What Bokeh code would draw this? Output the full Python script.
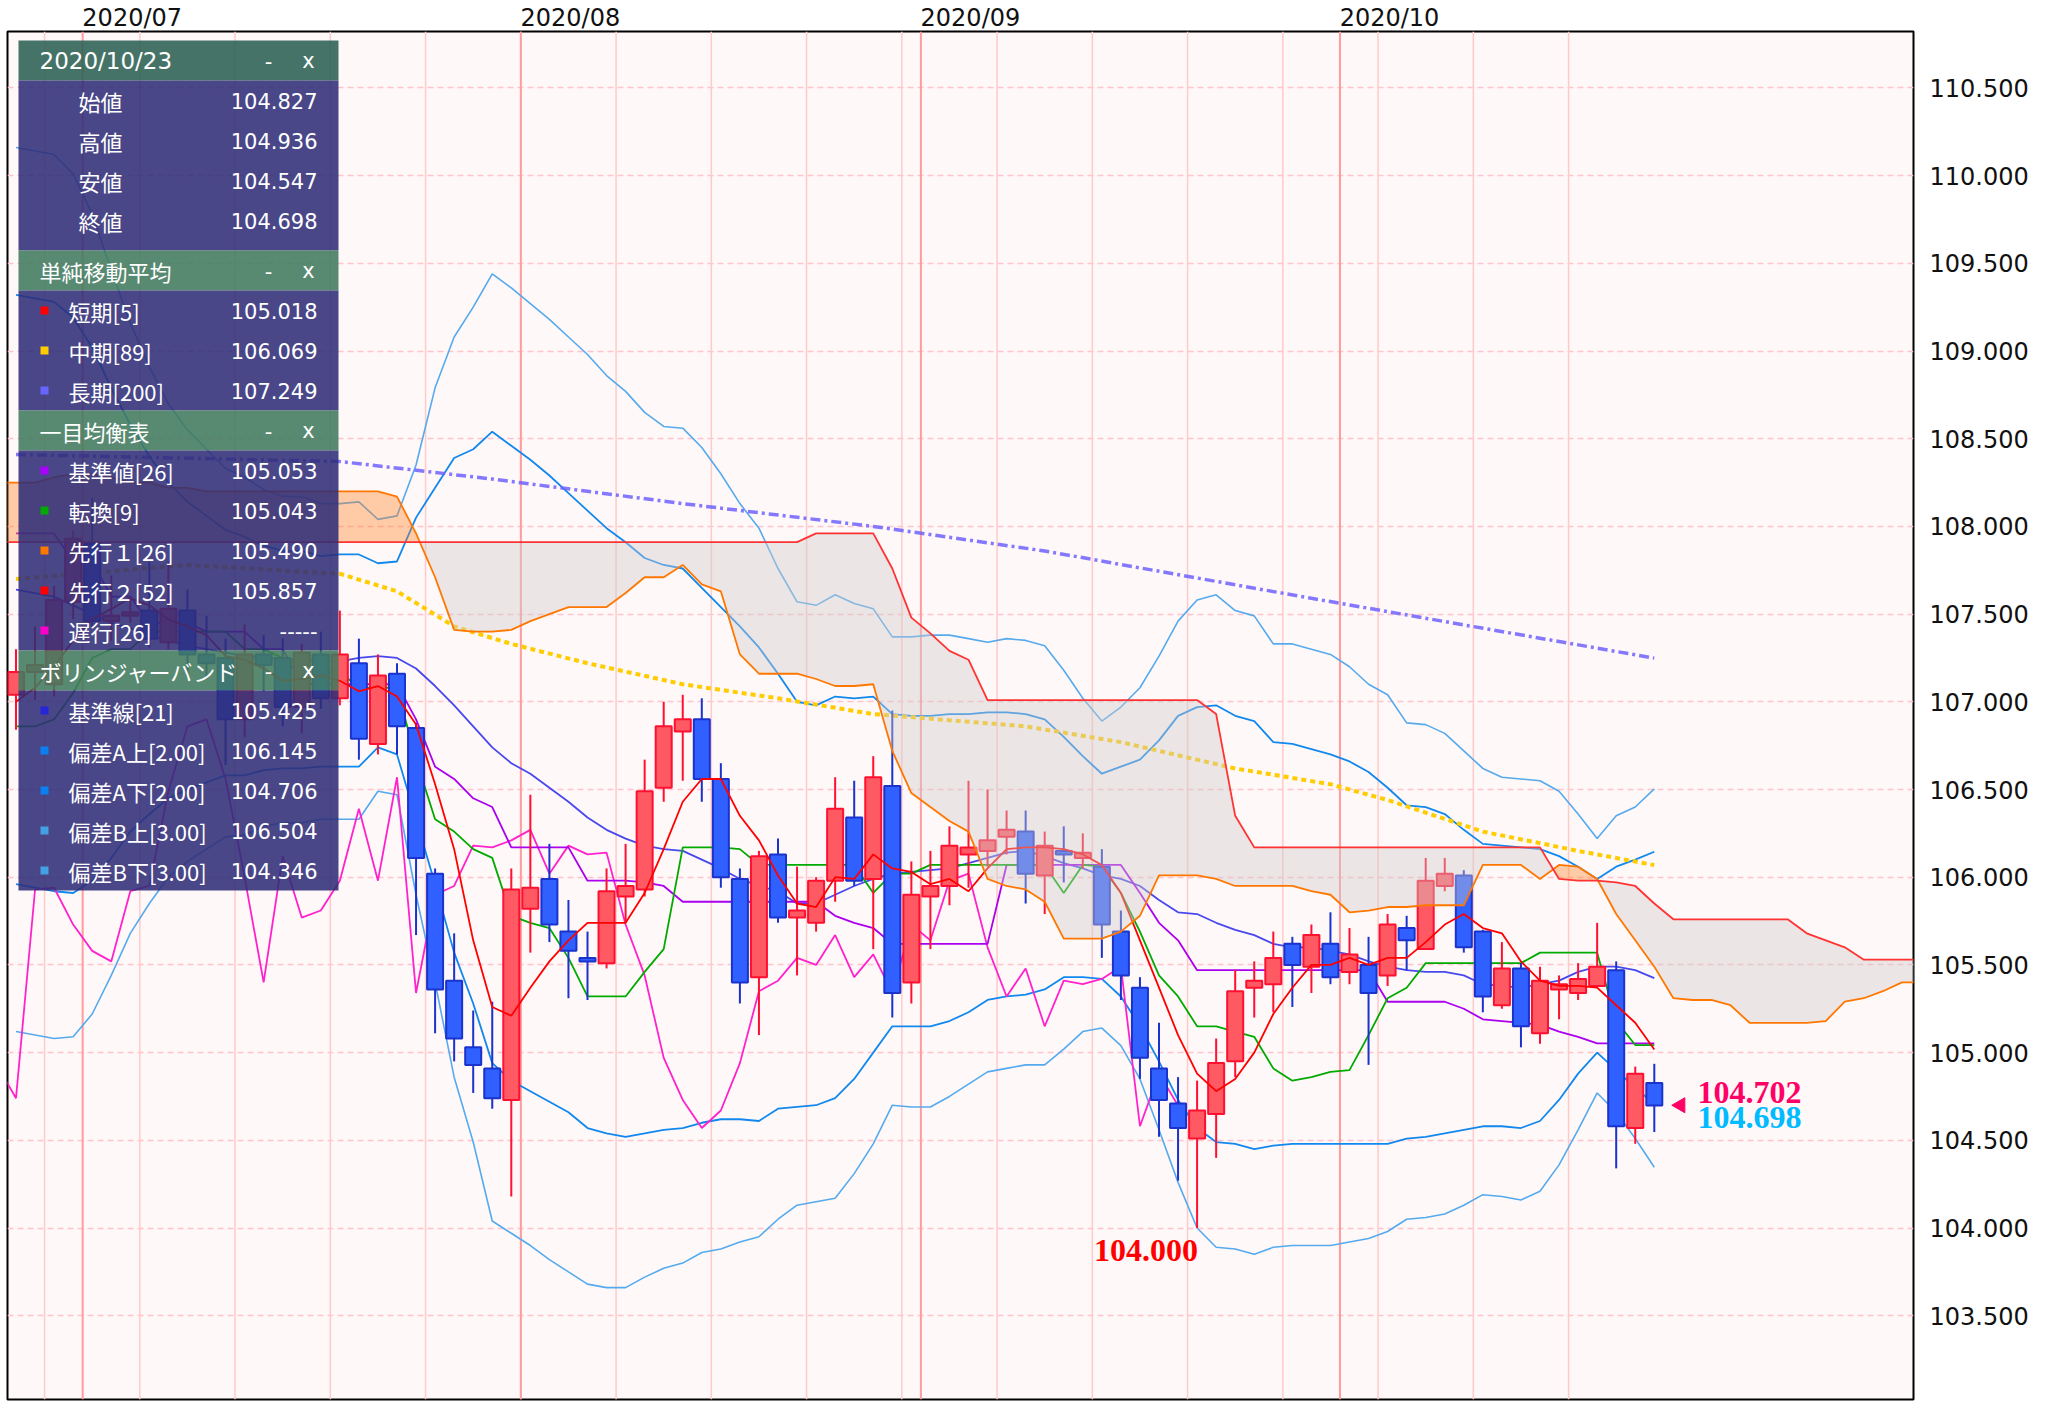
import numpy as np
import pandas as pd
from bokeh.plotting import figure
from bokeh.models import (Range1d, FixedTicker, PrintfTickFormatter, Span, Label, ColumnDataSource,
                          LinearAxis)
from bokeh.core.properties import value
from bokeh.embed import file_html
from bokeh.resources import INLINE

# ---------------- data (USD/JPY daily, 2020/06/25 - 2020/10/23) ----------------
dates = pd.bdate_range("2020-06-25", "2020-10-23")

opens = [107.04, 107.17, 107.10, 107.57, 107.90, 107.46, 107.49, 107.52, 107.34, 107.52, 107.27, 107.25, 106.90, 107.27, 107.25, 106.97, 107.27,
         107.02, 107.22, 106.76, 107.16, 106.85, 106.02, 105.41, 105.03, 104.91, 104.73,
         105.82, 105.99, 105.69, 105.54, 105.51, 105.89, 105.93, 106.51, 106.83, 106.90,
         106.56, 105.99, 105.43, 106.13, 105.77, 105.74, 105.98, 106.34, 105.99, 106.52,
         105.40, 105.89, 105.95, 106.13, 106.15, 106.23, 106.26, 106.01, 106.15, 106.11,
         106.06, 105.69, 105.37, 104.91, 104.71, 104.51, 104.65, 104.95, 105.37, 105.39,
         105.62, 105.49, 105.62, 105.46, 105.50, 105.44, 105.71, 105.59, 105.95, 106.01,
         105.69, 105.27, 105.48, 105.11, 105.36, 105.34, 105.38, 105.47, 104.57, 104.827]
highs = [107.30, 107.43, 107.66, 107.98, 108.16, 107.72, 107.60, 107.80, 107.80, 107.64, 107.49, 107.36, 107.44, 107.38, 107.36, 107.33, 107.40,
         107.52, 107.36, 107.27, 107.22, 106.88, 106.05, 105.68, 105.24, 105.29, 106.05,
         106.47, 106.19, 105.87, 105.69, 106.05, 106.19, 106.67, 107.00, 107.04, 107.02,
         106.65, 106.05, 106.15, 106.22, 106.06, 106.00, 106.57, 106.55, 106.69, 106.95,
         106.09, 106.15, 106.29, 106.55, 106.50, 106.38, 106.38, 106.26, 106.29, 106.25,
         106.16, 105.81, 105.43, 105.17, 104.86, 104.84, 105.08, 105.47, 105.52, 105.69,
         105.66, 105.73, 105.80, 105.71, 105.66, 105.79, 105.78, 106.11, 106.11, 106.04,
         105.70, 105.63, 105.51, 105.49, 105.44, 105.51, 105.74, 105.52, 104.92, 104.936]
lows = [106.84, 107.01, 107.03, 107.47, 107.42, 107.35, 107.45, 107.31, 107.30, 107.14, 107.13, 106.64, 106.80, 107.06, 106.86, 106.82, 106.96,
        106.98, 106.67, 106.70, 106.70, 105.67, 105.11, 104.95, 104.77, 104.68, 104.18,
        105.57, 105.63, 105.31, 105.30, 105.48, 105.74, 105.89, 106.43, 106.55, 106.43,
        105.94, 105.28, 105.10, 105.74, 105.44, 105.69, 105.86, 105.95, 105.59, 105.20,
        105.28, 105.59, 105.84, 105.94, 106.06, 106.13, 105.85, 105.79, 105.97, 106.05,
        105.54, 105.30, 104.85, 104.52, 104.27, 104.00, 104.40, 104.86, 105.20, 105.23,
        105.26, 105.34, 105.39, 105.39, 104.93, 105.38, 105.47, 105.59, 105.92, 105.57,
        105.23, 105.25, 105.03, 105.05, 105.19, 105.30, 105.38, 104.34, 104.48, 104.547]
closes = [107.17, 107.21, 107.58, 107.93, 107.46, 107.49, 107.51, 107.36, 107.53, 107.27, 107.22, 106.90, 107.27, 107.21, 106.97, 107.28, 107.02,
          107.27, 106.79, 107.15, 106.86, 106.11, 105.36, 105.08, 104.93, 104.74, 105.93,
          105.94, 105.73, 105.58, 105.52, 105.92, 105.95, 106.49, 106.86, 106.90, 106.56,
          106.00, 105.40, 106.12, 105.77, 105.81, 105.98, 106.39, 105.98, 106.57, 105.34,
          105.90, 105.95, 106.18, 106.17, 106.21, 106.27, 106.02, 106.18, 106.13, 106.14,
          105.73, 105.44, 104.97, 104.73, 104.57, 104.67, 104.94, 105.35, 105.41, 105.54,
          105.50, 105.67, 105.43, 105.56, 105.34, 105.73, 105.64, 105.98, 106.02, 105.60,
          105.32, 105.48, 105.15, 105.41, 105.39, 105.42, 105.49, 104.58, 104.88, 104.698]

sma5 = [107.00, 107.08, 107.20, 107.35, 107.47, 107.53, 107.59, 107.55, 107.47, 107.43, 107.38, 107.26, 107.24, 107.19, 107.12, 107.13, 107.15,
        107.12, 107.06, 107.09, 107.03, 106.87, 106.53, 106.16, 105.64, 105.26, 105.21,
        105.37, 105.52, 105.64, 105.74, 105.74, 105.74, 105.91, 106.16, 106.43, 106.56,
        106.56, 106.35, 106.21, 106.01, 105.85, 105.83, 106.00, 105.99, 106.13, 106.05,
        106.03, 105.96, 105.99, 105.92, 106.05, 106.16, 106.17, 106.17, 106.16, 106.13,
        106.07, 105.91, 105.64, 105.37, 105.10, 104.88, 104.78, 104.85, 105.00, 105.22,
        105.37, 105.50, 105.50, 105.54, 105.50, 105.54, 105.54, 105.63, 105.73, 105.79,
        105.71, 105.68, 105.52, 105.41, 105.38, 105.38, 105.37, 105.27, 105.17, 105.018]

sma89_x = [-4, 5, 13, 16, 19, 22, 26, 31, 36, 41, 49, 54, 60, 65, 68, 73, 78, 82]
sma89 = [107.70, 107.78, 107.73, 107.63, 107.43, 107.33, 107.22, 107.10, 107.02, 106.93,
         106.86, 106.77, 106.62, 106.53, 106.44, 106.26, 106.15, 106.069]

sma200_x = [-4, 13, 21, 31, 41, 50, 64, 82]
sma200 = [108.41, 108.37, 108.27, 108.13, 108.00, 107.86, 107.59, 107.249]

kijun = [107.96, 107.96, 107.96, 107.80, 107.80, 107.60, 107.60, 107.45, 107.45, 107.45, 107.40, 107.40, 107.40, 107.30, 107.30, 107.10, 107.10,
         107.10, 107.10, 107.10, 107.10, 106.90, 106.63, 106.56, 106.45, 106.40, 106.17,
         106.17, 106.17, 106.17, 105.98, 105.98, 105.98, 105.97, 105.95, 105.86, 105.86,
         105.86, 105.86, 105.86, 105.86, 105.86, 105.86, 105.78, 105.74, 105.71, 105.62,
         105.62, 105.62, 105.62, 105.62, 105.62, 106.07, 106.07, 106.07, 106.07, 106.07,
         106.07, 106.07, 105.91, 105.74, 105.64, 105.47, 105.47, 105.47, 105.47, 105.47,
         105.47, 105.47, 105.47, 105.47, 105.47, 105.29, 105.29, 105.29, 105.29, 105.25,
         105.19, 105.18, 105.17, 105.16, 105.12, 105.09, 105.053, 105.053, 105.053, 105.053]
tenkan = [106.86, 106.86, 106.90, 107.05, 107.25, 107.30, 107.30, 107.40, 107.40, 107.40, 107.40, 107.40, 107.30, 107.30, 107.25, 107.20, 107.17,
          107.17, 107.08, 107.08, 107.08, 106.67, 106.33, 106.26, 106.16, 106.11, 105.78,
          105.74, 105.71, 105.54, 105.32, 105.32, 105.32, 105.46, 105.59, 106.17, 106.17,
          106.17, 106.16, 106.07, 106.07, 106.07, 106.07, 106.07, 106.07, 105.91, 106.02,
          106.02, 106.07, 106.07, 106.07, 106.07, 106.07, 106.07, 106.07, 105.91, 106.07,
          106.06, 105.91, 105.69, 105.44, 105.32, 105.15, 105.15, 105.12, 105.09, 104.91,
          104.84, 104.86, 104.89, 104.90, 105.10, 105.31, 105.37, 105.51, 105.51, 105.51,
          105.51, 105.51, 105.51, 105.57, 105.57, 105.57, 105.57, 105.18, 105.043, 105.043]

# leading spans, plotted from x = -5 to x = 96 (26 bars ahead of the last candle)
senkou_a = [108.25, 108.25, 108.25, 108.28, 108.30, 108.30, 108.28, 108.25, 108.25, 108.22, 108.22, 108.20, 108.20, 108.20, 108.20, 108.20, 108.20, 108.20,
            108.20, 108.20, 108.20, 108.17, 107.96, 107.71, 107.41, 107.40, 107.40, 107.41,
            107.46, 107.50, 107.54, 107.54, 107.54, 107.62, 107.71, 107.71, 107.78, 107.67,
            107.63, 107.27, 107.16, 107.16, 107.16, 107.13, 107.09, 107.09, 107.10, 106.72,
            106.48, 106.40, 106.32, 106.26, 105.99, 105.95, 105.93, 105.86, 105.65, 105.65,
            105.65, 105.69, 105.78, 106.01, 106.01, 106.01, 105.99, 105.95, 105.95, 105.95,
            105.95, 105.92, 105.90, 105.80, 105.81, 105.83, 105.83, 105.84, 105.84, 105.84,
            106.07, 106.07, 106.07, 105.99, 106.07, 106.06, 105.99, 105.79, 105.64, 105.49,
            105.31, 105.30, 105.30, 105.27, 105.17, 105.17, 105.17, 105.17, 105.18, 105.29, 105.31, 105.35, 105.40, 105.40]
senkou_b = [107.91, 107.91, 107.91, 107.91, 107.91, 107.91, 107.91, 107.91, 107.91, 107.91, 107.91, 107.91, 107.91, 107.91, 107.91, 107.91, 107.91, 107.91,
            107.91, 107.91, 107.91, 107.91, 107.91, 107.91, 107.91, 107.91, 107.91, 107.91,
            107.91, 107.91, 107.91, 107.91, 107.91, 107.91, 107.91, 107.91, 107.91, 107.91,
            107.91, 107.91, 107.91, 107.91, 107.91, 107.96, 107.96, 107.96, 107.96, 107.76,
            107.48, 107.39, 107.29, 107.24, 107.01, 107.01, 107.01, 107.01, 107.01, 107.01,
            107.01, 107.01, 107.01, 107.01, 107.01, 107.01, 106.93, 106.35, 106.17, 106.17,
            106.17, 106.17, 106.17, 106.17, 106.17, 106.17, 106.17, 106.17, 106.17, 106.17,
            106.17, 106.17, 106.17, 106.17, 105.99, 105.98, 105.98, 105.97, 105.95, 105.85,
            105.76, 105.76, 105.76, 105.76, 105.76, 105.76, 105.76, 105.68, 105.64, 105.60, 105.53, 105.53, 105.53, 105.53]

bb_up3 = [110.16, 110.14, 110.12, 110.01, 109.78, 109.46, 109.16, 108.91, 108.70, 108.55, 108.44, 108.33, 108.28, 108.21, 108.17, 108.17, 108.13,
          108.13, 108.14, 108.04, 108.06, 108.35, 108.79, 109.08, 109.25, 109.44, 109.36,
          109.27, 109.18, 109.08, 108.98, 108.86, 108.77, 108.65, 108.57, 108.56, 108.45,
          108.30, 108.13, 107.99, 107.76, 107.57, 107.55, 107.61, 107.56, 107.53, 107.37,
          107.37, 107.38, 107.38, 107.36, 107.34, 107.36, 107.35, 107.32, 107.18, 107.02,
          106.89, 106.97, 107.08, 107.26, 107.46, 107.58, 107.61, 107.52, 107.49, 107.33,
          107.33, 107.30, 107.27, 107.20, 107.10, 107.04, 106.88, 106.87, 106.82, 106.72,
          106.62, 106.57, 106.56, 106.55, 106.49, 106.36, 106.22, 106.35, 106.40, 106.504]
bb_up2 = [109.32, 109.30, 109.28, 109.19, 109.02, 108.79, 108.58, 108.40, 108.25, 108.14, 108.06, 107.98, 107.94, 107.89, 107.86, 107.86, 107.83,
          107.84, 107.84, 107.79, 107.80, 108.05, 108.22, 108.39, 108.44, 108.54, 108.46,
          108.38, 108.29, 108.19, 108.09, 107.99, 107.91, 107.82, 107.78, 107.76, 107.65,
          107.54, 107.43, 107.31, 107.16, 107.00, 106.98, 107.03, 107.02, 107.03, 106.93,
          106.92, 106.92, 106.93, 106.93, 106.94, 106.94, 106.93, 106.90, 106.80, 106.69,
          106.59, 106.63, 106.67, 106.78, 106.92, 106.97, 106.98, 106.92, 106.89, 106.77,
          106.76, 106.73, 106.70, 106.66, 106.60, 106.51, 106.41, 106.40, 106.36, 106.27,
          106.19, 106.18, 106.17, 106.16, 106.12, 106.06, 105.99, 106.06, 106.10, 106.145]
bb_mid = [107.64, 107.62, 107.60, 107.55, 107.50, 107.45, 107.42, 107.38, 107.35, 107.32, 107.30, 107.28, 107.26, 107.25, 107.24, 107.24, 107.23,
          107.23, 107.25, 107.26, 107.25, 107.19, 107.09, 106.98, 106.86, 106.74, 106.65,
          106.59, 106.51, 106.43, 106.34, 106.27, 106.22, 106.18, 106.16, 106.15, 106.10,
          106.05, 105.99, 105.95, 105.92, 105.85, 105.85, 105.90, 105.95, 105.99, 106.02,
          106.03, 106.04, 106.05, 106.08, 106.11, 106.14, 106.15, 106.12, 106.08, 106.05,
          106.01, 105.99, 105.95, 105.87, 105.80, 105.79, 105.74, 105.70, 105.67, 105.62,
          105.60, 105.60, 105.58, 105.56, 105.52, 105.49, 105.47, 105.46, 105.46, 105.44,
          105.39, 105.38, 105.37, 105.39, 105.41, 105.46, 105.49, 105.49, 105.47, 105.425]
bb_dn2 = [105.96, 105.94, 105.92, 105.91, 105.98, 106.11, 106.26, 106.36, 106.45, 106.50, 106.54, 106.58, 106.58, 106.61, 106.62, 106.62, 106.63,
          106.63, 106.63, 106.74, 106.70, 106.33, 105.96, 105.57, 105.28, 104.94, 104.84,
          104.78, 104.72, 104.66, 104.57, 104.54, 104.52, 104.54, 104.56, 104.57, 104.60,
          104.62, 104.62, 104.61, 104.68, 104.69, 104.70, 104.74, 104.85, 105.00, 105.15,
          105.15, 105.15, 105.18, 105.23, 105.30, 105.32, 105.33, 105.36, 105.43, 105.43,
          105.42, 105.32, 105.15, 104.95, 104.73, 104.57, 104.49, 104.48, 104.45, 104.47,
          104.48, 104.48, 104.48, 104.48, 104.48, 104.48, 104.51, 104.52, 104.54, 104.56,
          104.58, 104.58, 104.57, 104.61, 104.73, 104.88, 105.00, 104.90, 104.80, 104.706]
bb_dn3 = [105.12, 105.10, 105.08, 105.09, 105.22, 105.44, 105.68, 105.85, 106.00, 106.09, 106.16, 106.23, 106.24, 106.29, 106.31, 106.31, 106.33,
          106.33, 106.33, 106.49, 106.47, 105.90, 105.40, 104.86, 104.49, 104.04, 103.97,
          103.90, 103.82, 103.75, 103.68, 103.66, 103.66, 103.72, 103.77, 103.80, 103.86,
          103.88, 103.92, 103.95, 104.05, 104.13, 104.15, 104.17, 104.31, 104.48, 104.70,
          104.69, 104.69, 104.75, 104.82, 104.89, 104.91, 104.93, 104.93, 105.02, 105.12,
          105.14, 105.04, 104.85, 104.56, 104.26, 104.00, 103.89, 103.88, 103.85, 103.89,
          103.90, 103.90, 103.90, 103.92, 103.94, 103.98, 104.05, 104.06, 104.08, 104.13,
          104.19, 104.18, 104.16, 104.21, 104.36, 104.56, 104.77, 104.66, 104.51, 104.346]

y_ticks = [103.5, 104.0, 104.5, 105.0, 105.5, 106.0, 106.5, 107.0, 107.5, 108.0, 108.5, 109.0, 109.5, 110.0, 110.5]
cut_tick = 103.0

panel_title = "2020/10/23"
ohlc_labels = ["始値", "高値", "安値", "終値"]
ohlc_values = ["104.827", "104.936", "104.547", "104.698"]
sections = [
    ("単純移動平均", ["短期[5]", "中期[89]", "長期[200]"], ["105.018", "106.069", "107.249"],
     ["#ff0000", "#ffcc00", "#6666ff"]),
    ("一目均衡表", ["基準値[26]", "転換[9]", "先行１[26]", "先行２[52]", "遅行[26]"],
     ["105.053", "105.043", "105.490", "105.857", "-----"],
     ["#aa00ff", "#00aa00", "#ff7700", "#ff0000", "#ff00cc"]),
    ("ボリンジャーバンド", ["基準線[21]", "偏差A上[2.00]", "偏差A下[2.00]", "偏差B上[3.00]", "偏差B下[3.00]"],
     ["105.425", "106.145", "104.706", "106.504", "104.346"],
     ["#2626d8", "#0a80f0", "#0a80f0", "#44a0e4", "#44a0e4"]),
]
price_tags = ["104.702", "104.698"]
low_tag = "104.000"

n_days = len(dates)
for arr in (opens, highs, lows, closes, sma5, kijun, tenkan, bb_up3, bb_up2, bb_mid, bb_dn2, bb_dn3):
    assert len(arr) == n_days, len(arr)
assert len(senkou_a) == 102 and len(senkou_b) == 102, (len(senkou_a), len(senkou_b))

# ---------------- geometry helpers (page pixels -> data) ----------------
def px_x(px):
    return (px - 91.7) / 19.05

def px_y(py):
    return 110.5 - (py - 87.4) / 175.4

x = np.arange(n_days) - 4          # 2020/07/01 -> 0
mondays = [int(x[k]) for k in range(n_days) if dates[k].dayofweek == 0]
month_starts = [int(x[k]) for k in range(1, n_days) if dates[k].month != dates[k - 1].month]
month_names = [dates[x.tolist().index(m)].strftime("%Y/%m") for m in month_starts]

p = figure(frame_width=1906, frame_height=1368,
           x_range=Range1d(px_x(7), px_x(1913)), y_range=Range1d(px_y(1399), px_y(31)),
           output_backend="svg", toolbar_location=None,
           x_axis_location=None, y_axis_location="right",
           min_border_left=7, min_border_top=31, min_border_bottom=7, min_border_right=133,
           background_fill_color="#fff8f8", border_fill_color="white",
           outline_line_color="black", outline_line_width=2)

p.yaxis.ticker = FixedTicker(ticks=y_ticks)
p.yaxis.formatter = PrintfTickFormatter(format="%.3f")
p.yaxis.major_tick_line_color = None
p.yaxis.minor_tick_line_color = None
p.yaxis.major_tick_out = 0
p.yaxis.major_tick_in = 0
p.yaxis.minor_tick_out = 0
p.yaxis.axis_line_color = None
p.yaxis.major_label_text_font = "DejaVu Sans"
p.yaxis.major_label_text_font_size = "24px"
p.yaxis.major_label_text_color = "#111111"
p.yaxis.major_label_standoff = 16
p.ygrid.ticker = FixedTicker(ticks=y_ticks)
p.ygrid.grid_line_color = "#ffc4cc"
p.ygrid.grid_line_dash = "6 4"
p.ygrid.grid_line_width = 1.5
p.xgrid.grid_line_color = None

# month axis on top: each label starts just left of its month's first-day line
month_label_pos = [m + 2.1 for m in month_starts]
top_axis = LinearAxis(ticker=FixedTicker(ticks=month_label_pos),
                      major_label_overrides={pos: name for pos, name in zip(month_label_pos, month_names)},
                      major_tick_line_color=None, minor_tick_line_color=None,
                      major_tick_out=0, major_tick_in=0, minor_tick_out=0,
                      axis_line_color=None, major_label_standoff=0,
                      major_label_text_font="DejaVu Sans", major_label_text_font_size="24px",
                      major_label_text_color="#111111")
p.add_layout(top_axis, "above")

# partly visible bottom tick label (below the frame, cut by the page edge as in the original)
p.add_layout(Label(x=px_x(1929), y=cut_tick, text="%.3f" % cut_tick, text_align="left",
                   text_baseline="middle", text_font="DejaVu Sans", text_font_size="24px",
                   text_color="#111111"))

for m in mondays:
    p.add_layout(Span(location=m - 0.5, dimension="height", line_color="#ffcaca",
                      line_width=1.5, level="underlay"))
for m in month_starts:
    p.add_layout(Span(location=m - 0.5, dimension="height", line_color="#ff9c9c",
                      line_width=2, level="underlay"))

# ---------------- indicator lines ----------------
p.line(x, bb_up3, line_color="#55aaee", line_width=1.6)
p.line(x, bb_dn3, line_color="#55aaee", line_width=1.6)
p.line(x, bb_up2, line_color="#1188ee", line_width=1.8)
p.line(x, bb_dn2, line_color="#1188ee", line_width=1.8)
p.line(x, bb_mid, line_color="#4848ee", line_width=1.8)
p.line(sma200_x, sma200, line_color="#6f63ff", line_width=3.5, line_dash="10 4 3 4", line_alpha=0.85)
p.line(sma89_x, sma89, line_color="#ffcc00", line_width=4, line_dash="5 4")
chikou_x = x[24:] - 25
chikou_y = closes[24:]
p.line(chikou_x, chikou_y, line_color="#ff22cc", line_width=1.8)
p.line(x, kijun, line_color="#aa00ee", line_width=1.8)
p.line(x, tenkan, line_color="#00aa00", line_width=1.8)

# ---------------- candles ----------------
o = np.array(opens); c = np.array(closes)
up = c >= o
src = ColumnDataSource(dict(
    x=x, h=highs, l=lows,
    top=np.maximum(o, c), bottom=np.minimum(o, c),
    fill=["#ff5a64" if u else "#3060ff" for u in up],
    line=["#ff1030" if u else "#1a33cc" for u in up]))
p.segment(x0="x", y0="l", x1="x", y1="h", line_color="line", line_width=2, source=src)
p.vbar(x="x", width=0.84, top="top", bottom="bottom", fill_color="fill",
       line_color="line", line_width=2, source=src)

p.line(x, sma5, line_color="#ff0000", line_width=1.8)

# ---------------- cloud ----------------
sx = np.arange(-5, 97)
xf = np.linspace(-5, 96, 101 * 10 + 1)
af = np.interp(xf, sx, senkou_a)
bf = np.interp(xf, sx, senkou_b)
topf = np.maximum(af, bf)
p.varea(x=xf, y1=af, y2=topf, fill_color="#cfcaca", fill_alpha=0.42)
p.varea(x=xf, y1=bf, y2=topf, fill_color="#ff8020", fill_alpha=0.38)
p.line(sx, senkou_a, line_color="#ff7700", line_width=1.8)
p.line(sx, senkou_b, line_color="#ff3333", line_width=1.8)

# ---------------- price tags ----------------
p.scatter(x=[px_x(1680)], y=[104.70], marker="triangle", size=15, angle=np.pi / 2,
          fill_color="#ff0066", line_color="#ff0066")
p.text(x=[px_x(1697), px_x(1697)], y=[px_y(1092), px_y(1117)], text=price_tags,
       text_color=["#ff0066", "#00bbff"], text_font=value("Liberation Serif"),
       text_font_style="bold", text_font_size="32px", text_baseline="middle", text_align="left")
p.text(x=[58.05], y=[px_y(1250)], text=[low_tag], text_color="#ff0000",
       text_font=value("Liberation Serif"), text_font_style="bold", text_font_size="32px",
       text_baseline="middle", text_align="right")

# ---------------- info panel ----------------
L, R = px_x(18), px_x(338)
cjk = value("Noto Sans CJK JP")
lat = value("DejaVu Sans")
fs_cjk = "22px"
fs_lat = "21px"

def band(y0, y1, color):
    p.quad(left=[L], right=[R], top=[px_y(y0)], bottom=[px_y(y1)],
           fill_color=color, fill_alpha=0.88, line_color=None)

def header(yc, title, dark=False, latin=False):
    band(yc - 20, yc + 20, "#2c6053" if dark else "#417a5e")
    p.text(x=[px_x(39)], y=[px_y(yc)], text=[title], text_color="white",
           text_font=lat if latin else cjk, text_font_size="23px" if latin else fs_cjk,
           text_baseline="middle", text_align="left")
    p.text(x=[px_x(268), px_x(308)], y=[px_y(yc), px_y(yc)], text=["-", "x"], text_color="white",
           text_font=lat, text_font_size=fs_lat, text_baseline="middle", text_align="center")

header(60, panel_title, dark=True, latin=True)
band(80, 250, "#302d78")
ys = [100 + 40 * k for k in range(4)]
p.text(x=[px_x(78)] * 4, y=[px_y(v) for v in ys], text=ohlc_labels, text_color="white",
       text_font=cjk, text_font_size=fs_cjk, text_baseline="middle", text_align="left")
p.text(x=[px_x(317)] * 4, y=[px_y(v) for v in ys], text=ohlc_values, text_color="white",
       text_font=lat, text_font_size=fs_lat, text_baseline="middle", text_align="right")

ytop = 250
for title, labels, vals, cols in sections:
    header(ytop + 20, title)
    n = len(labels)
    band(ytop + 40, ytop + 40 + 40 * n, "#302d78")
    ys = [ytop + 60 + 40 * k for k in range(n)]
    p.scatter(x=[px_x(44)] * n, y=[px_y(v) for v in ys], marker="square", size=8,
              fill_color=cols, line_color=None)
    p.text(x=[px_x(68)] * n, y=[px_y(v) for v in ys], text=labels, text_color="white",
           text_font=cjk, text_font_size=fs_cjk, text_baseline="middle", text_align="left")
    p.text(x=[px_x(317)] * n, y=[px_y(v) for v in ys], text=vals, text_color="white",
           text_font=lat, text_font_size=fs_lat, text_baseline="middle", text_align="right")
    ytop = ytop + 40 + 40 * n

open("out.html", "w").write(file_html(p, INLINE))
